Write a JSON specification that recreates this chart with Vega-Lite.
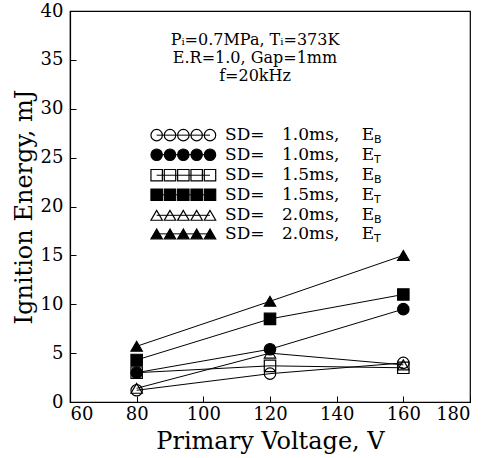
{
  "$schema": "https://vega.github.io/schema/vega-lite/v6.json",
  "width": 400,
  "height": 391,
  "autosize": "none",
  "padding": {"left": 70, "top": 11, "right": 24, "bottom": 56},
  "background": "white",
  "config": {
    "view": {"stroke": "black", "strokeWidth": 1.2},
    "font": "DejaVu Serif",
    "axis": {
      "grid": false,
      "domainColor": "black",
      "tickColor": "black",
      "labelColor": "black",
      "titleColor": "black",
      "labelFont": "DejaVu Serif",
      "titleFont": "DejaVu Serif",
      "labelFontSize": 18,
      "titleFontSize": 24,
      "titleFontWeight": "normal",
      "tickSize": -6,
      "domainWidth": 1.2
    }
  },
  "datasets": {
    "series": [
      {"series": "1.0 EB", "V": 80, "E": 1.2},
      {"series": "1.0 EB", "V": 120, "E": 2.9},
      {"series": "1.0 EB", "V": 160, "E": 4.0},
      {"series": "1.0 ET", "V": 80, "E": 3.0},
      {"series": "1.0 ET", "V": 120, "E": 5.4},
      {"series": "1.0 ET", "V": 160, "E": 9.5},
      {"series": "1.5 EB", "V": 80, "E": 3.0},
      {"series": "1.5 EB", "V": 120, "E": 3.7},
      {"series": "1.5 EB", "V": 160, "E": 3.5},
      {"series": "1.5 ET", "V": 80, "E": 4.3},
      {"series": "1.5 ET", "V": 120, "E": 8.5},
      {"series": "1.5 ET", "V": 160, "E": 11.0},
      {"series": "2.0 EB", "V": 80, "E": 1.4},
      {"series": "2.0 EB", "V": 120, "E": 5.0},
      {"series": "2.0 EB", "V": 160, "E": 3.8},
      {"series": "2.0 ET", "V": 80, "E": 5.7},
      {"series": "2.0 ET", "V": 120, "E": 10.3},
      {"series": "2.0 ET", "V": 160, "E": 15.0}
    ],
    "legline": [
      {"series": "1.0 EB", "y": 27.3, "x1": 86, "x2": 102},
      {"series": "1.0 ET", "y": 25.3, "x1": 86, "x2": 102},
      {"series": "1.5 EB", "y": 23.2, "x1": 86, "x2": 102},
      {"series": "1.5 ET", "y": 21.2, "x1": 86, "x2": 102},
      {"series": "2.0 EB", "y": 19.1, "x1": 86, "x2": 102},
      {"series": "2.0 ET", "y": 17.2, "x1": 86, "x2": 102}
    ],
    "legpts": [
      {"series": "1.0 EB", "y": 27.3, "x": 86}, {"series": "1.0 EB", "y": 27.3, "x": 90}, {"series": "1.0 EB", "y": 27.3, "x": 94}, {"series": "1.0 EB", "y": 27.3, "x": 98}, {"series": "1.0 EB", "y": 27.3, "x": 102},
      {"series": "1.0 ET", "y": 25.3, "x": 86}, {"series": "1.0 ET", "y": 25.3, "x": 90}, {"series": "1.0 ET", "y": 25.3, "x": 94}, {"series": "1.0 ET", "y": 25.3, "x": 98}, {"series": "1.0 ET", "y": 25.3, "x": 102},
      {"series": "1.5 EB", "y": 23.2, "x": 86}, {"series": "1.5 EB", "y": 23.2, "x": 90}, {"series": "1.5 EB", "y": 23.2, "x": 94}, {"series": "1.5 EB", "y": 23.2, "x": 98}, {"series": "1.5 EB", "y": 23.2, "x": 102},
      {"series": "1.5 ET", "y": 21.2, "x": 86}, {"series": "1.5 ET", "y": 21.2, "x": 90}, {"series": "1.5 ET", "y": 21.2, "x": 94}, {"series": "1.5 ET", "y": 21.2, "x": 98}, {"series": "1.5 ET", "y": 21.2, "x": 102},
      {"series": "2.0 EB", "y": 19.1, "x": 86}, {"series": "2.0 EB", "y": 19.1, "x": 90}, {"series": "2.0 EB", "y": 19.1, "x": 94}, {"series": "2.0 EB", "y": 19.1, "x": 98}, {"series": "2.0 EB", "y": 19.1, "x": 102},
      {"series": "2.0 ET", "y": 17.2, "x": 86}, {"series": "2.0 ET", "y": 17.2, "x": 90}, {"series": "2.0 ET", "y": 17.2, "x": 94}, {"series": "2.0 ET", "y": 17.2, "x": 98}, {"series": "2.0 ET", "y": 17.2, "x": 102}
    ],
    "legtext": [
      {"x": 106.5, "y": 27.3, "t": "SD="}, {"x": 123.6, "y": 27.3, "t": "1.0ms,"}, {"x": 147.5, "y": 27.3, "t": "E"},
      {"x": 106.5, "y": 25.3, "t": "SD="}, {"x": 123.6, "y": 25.3, "t": "1.0ms,"}, {"x": 147.5, "y": 25.3, "t": "E"},
      {"x": 106.5, "y": 23.2, "t": "SD="}, {"x": 123.6, "y": 23.2, "t": "1.5ms,"}, {"x": 147.5, "y": 23.2, "t": "E"},
      {"x": 106.5, "y": 21.2, "t": "SD="}, {"x": 123.6, "y": 21.2, "t": "1.5ms,"}, {"x": 147.5, "y": 21.2, "t": "E"},
      {"x": 106.5, "y": 19.1, "t": "SD="}, {"x": 123.6, "y": 19.1, "t": "2.0ms,"}, {"x": 147.5, "y": 19.1, "t": "E"},
      {"x": 106.5, "y": 17.2, "t": "SD="}, {"x": 123.6, "y": 17.2, "t": "2.0ms,"}, {"x": 147.5, "y": 17.2, "t": "E"}
    ],
    "legsub": [
      {"x": 151.2, "y": 27.3, "t": "B"},
      {"x": 151.2, "y": 25.3, "t": "T"},
      {"x": 151.2, "y": 23.2, "t": "B"},
      {"x": 151.2, "y": 21.2, "t": "T"},
      {"x": 151.2, "y": 19.1, "t": "B"},
      {"x": 151.2, "y": 17.2, "t": "T"}
    ],
    "notes": [
      {"x": 115.5, "y": 37.0, "t": "Pᵢ=0.7MPa,  Tᵢ=373K"},
      {"x": 115.5, "y": 35.2, "t": "E.R=1.0,  Gap=1mm"},
      {"x": 115.5, "y": 33.4, "t": "f=20kHz"}
    ]
  },
  "layer": [
    {
      "data": {"name": "series"},
      "mark": {"type": "line", "color": "black", "strokeWidth": 1},
      "encoding": {
        "x": {"field": "V", "type": "quantitative", "scale": {"domain": [60, 180]}, "axis": {"values": [60, 80, 100, 120, 140, 160, 180], "title": "Primary Voltage, V", "titlePadding": 6, "labelPadding": 9, "labelFont": "DejaVu Serif", "titleFont": "DejaVu Serif"}},
        "y": {"field": "E", "type": "quantitative", "scale": {"domain": [0, 40]}, "axis": {"values": [0, 5, 10, 15, 20, 25, 30, 35, 40], "title": "Ignition Energy, mJ", "titlePadding": 4, "labelPadding": 13, "labelFont": "DejaVu Serif", "titleFont": "DejaVu Serif"}},
        "detail": {"field": "series"}
      }
    },
    {
      "data": {"name": "series"},
      "mark": {"type": "point", "filled": true, "stroke": "black", "strokeWidth": 1.2, "size": 130, "opacity": 1},
      "encoding": {
        "x": {"field": "V", "type": "quantitative"},
        "y": {"field": "E", "type": "quantitative"},
        "shape": {"field": "series", "type": "nominal", "scale": {"domain": ["1.0 EB", "1.0 ET", "1.5 EB", "1.5 ET", "2.0 EB", "2.0 ET"], "range": ["circle", "circle", "square", "square", "triangle-up", "triangle-up"]}, "legend": null},
        "fill": {"field": "series", "type": "nominal", "scale": {"domain": ["1.0 EB", "1.0 ET", "1.5 EB", "1.5 ET", "2.0 EB", "2.0 ET"], "range": ["transparent", "black", "transparent", "black", "transparent", "black"]}, "legend": null}
      }
    },
    {
      "data": {"name": "legline"},
      "mark": {"type": "rule", "color": "black", "strokeWidth": 1},
      "encoding": {
        "x": {"field": "x1", "type": "quantitative"},
        "x2": {"field": "x2"},
        "y": {"field": "y", "type": "quantitative"}
      }
    },
    {
      "data": {"name": "legpts"},
      "mark": {"type": "point", "filled": true, "stroke": "black", "strokeWidth": 1.2, "size": 130, "opacity": 1},
      "encoding": {
        "x": {"field": "x", "type": "quantitative"},
        "y": {"field": "y", "type": "quantitative"},
        "shape": {"field": "series", "type": "nominal", "legend": null},
        "fill": {"field": "series", "type": "nominal", "legend": null}
      }
    },
    {
      "data": {"name": "legtext"},
      "mark": {"type": "text", "align": "left", "baseline": "middle", "fontSize": 17, "font": "DejaVu Serif", "color": "black"},
      "encoding": {
        "x": {"field": "x", "type": "quantitative"},
        "y": {"field": "y", "type": "quantitative"},
        "text": {"field": "t"}
      }
    },
    {
      "data": {"name": "legsub"},
      "mark": {"type": "text", "align": "left", "baseline": "middle", "fontSize": 11, "dy": 5, "font": "DejaVu Sans", "color": "black"},
      "encoding": {
        "x": {"field": "x", "type": "quantitative"},
        "y": {"field": "y", "type": "quantitative"},
        "text": {"field": "t"}
      }
    },
    {
      "data": {"name": "notes"},
      "mark": {"type": "text", "align": "center", "baseline": "middle", "fontSize": 16, "font": "DejaVu Serif", "color": "black"},
      "encoding": {
        "x": {"field": "x", "type": "quantitative"},
        "y": {"field": "y", "type": "quantitative"},
        "text": {"field": "t"}
      }
    }
  ]
}
